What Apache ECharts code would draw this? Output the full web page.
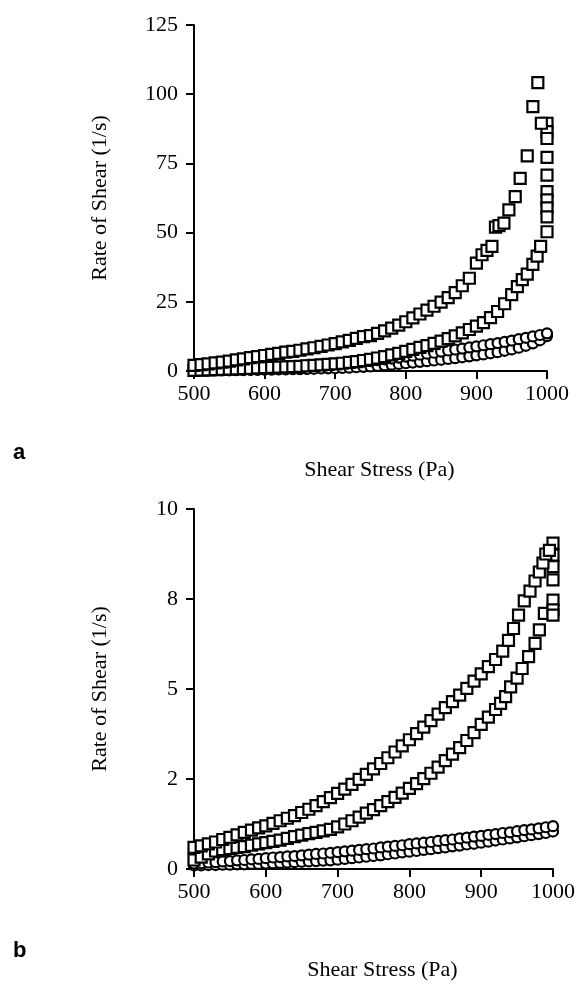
<!DOCTYPE html>
<html>
<head>
<meta charset="utf-8">
<script src="https://cdn.jsdelivr.net/npm/echarts@6/dist/echarts.min.js"></script>
<style>
  html, body { margin: 0; padding: 0; background: #fff; }
  #chart { width: 578px; height: 988px; }
</style>
</head>
<body>
<div id="chart"></div>
<script>
// stress grid (Pa), read every 10 Pa
var stressGrid = [500, 510, 520, 530, 540, 550, 560, 570, 580, 590,
  600, 610, 620, 630, 640, 650, 660, 670, 680, 690,
  700, 710, 720, 730, 740, 750, 760, 770, 780, 790,
  800, 810, 820, 830, 840, 850, 860, 870, 880, 890,
  900, 910, 920, 930, 940, 950, 960, 970, 980, 990, 1000];
var stressTo900 = stressGrid.slice(0, 41);

var xTicks = [500, 600, 700, 800, 900, 1000];
var yTicksA = ["0", "25", "50", "75", "100", "125"];
var yTicksB = ["0", "2", "5", "8", "10"];

// ---- panel a ----
var aSqUp = [2.0, 2.3, 2.6, 2.9, 3.2, 3.6, 4.0, 4.4, 4.8, 5.2,
  5.6, 6.0, 6.4, 6.8, 7.1, 7.5, 8.0, 8.4, 8.9, 9.4,
  9.9, 10.5, 11.1, 11.8, 12.4, 12.8, 13.6, 14.5, 15.5, 16.6,
  17.8, 19.2, 20.6, 22.0, 23.4, 24.9, 26.5, 28.3, 30.8, 33.5, 39.0];
var aSqUpTailX = [908, 915, 922, 927, 932, 939, 946, 955, 962, 972, 980, 987, 992];
var aSqUpTailY = [42.0, 43.6, 45.0, 52.0, 52.5, 53.4, 58.2, 63.0, 69.6, 77.7, 95.5, 104.2, 89.5];
var aSqHold = [89.5, 86.5, 84.0, 77.2, 70.8, 64.8, 61.8, 58.9, 55.7, 50.3];
var aSqDown = [0.2, 0.3, 0.4, 0.5, 0.6, 0.7, 0.8, 0.9, 1.0, 1.1,
  1.2, 1.3, 1.4, 1.5, 1.6, 1.7, 1.9, 2.0, 2.2, 2.4,
  2.6, 2.8, 3.1, 3.4, 3.8, 4.2, 4.7, 5.2, 5.8, 6.4,
  7.1, 7.8, 8.5, 9.2, 10.0, 10.8, 11.7, 12.7, 13.8, 15.0, 16.2];
var aSqDownTailX = [910, 920, 930, 940, 950, 958, 965, 972, 980, 986, 991];
var aSqDownTailY = [17.5, 19.3, 21.5, 24.3, 27.6, 30.5, 33.0, 35.0, 38.5, 41.5, 45.0];
var aCircUp = [0.3, 0.35, 0.4, 0.5, 0.6, 0.7, 0.8, 0.9, 1.0, 1.1,
  1.2, 1.3, 1.4, 1.55, 1.7, 1.85, 2.0, 2.15, 2.3, 2.45,
  2.6, 2.8, 3.0, 3.2, 3.4, 3.6, 3.9, 4.2, 4.5, 4.85,
  5.2, 5.55, 5.9, 6.25, 6.6, 7.0, 7.4, 7.75, 8.1, 8.5,
  8.9, 9.3, 9.7, 10.1, 10.5, 11.0, 11.5, 12.0, 12.5, 13.0, 13.6];
var aCircDown = [0.1, 0.1, 0.15, 0.2, 0.2, 0.25, 0.3, 0.3, 0.35, 0.4,
  0.45, 0.5, 0.55, 0.6, 0.65, 0.7, 0.75, 0.8, 0.9, 0.95,
  1.0, 1.1, 1.2, 1.35, 1.5, 1.65, 1.85, 2.05, 2.3, 2.55,
  2.8, 3.05, 3.3, 3.55, 3.8, 4.05, 4.35, 4.65, 4.95, 5.3,
  5.65, 6.0, 6.4, 6.8, 7.3, 7.8, 8.4, 9.1, 10.0, 11.1, 12.6];

// ---- panel b ----
var bSqUp = [0.60, 0.64, 0.70, 0.75, 0.82, 0.88, 0.95, 1.02, 1.08, 1.14,
  1.20, 1.27, 1.34, 1.41, 1.48, 1.57, 1.66, 1.76, 1.87, 1.98,
  2.10, 2.22, 2.35, 2.49, 2.63, 2.78, 2.93, 3.09, 3.25, 3.42,
  3.59, 3.76, 3.94, 4.12, 4.30, 4.48, 4.65, 4.83, 5.02, 5.22, 5.42];
var bSqUpTailX = [910, 920, 930, 938, 945, 952, 960, 968, 975, 981, 986, 990, 995];
var bSqUpTailY = [5.62, 5.82, 6.05, 6.35, 6.68, 7.05, 7.45, 7.72, 8.0, 8.25, 8.5, 8.75, 8.85];
var bSqHold = [9.05, 8.72, 8.4, 8.03, 7.47, 7.2, 7.05];
var bSqDown = [0.25, 0.33, 0.42, 0.50, 0.54, 0.57, 0.60, 0.62, 0.66, 0.70,
  0.73, 0.77, 0.80, 0.85, 0.90, 0.94, 0.98, 1.02, 1.06, 1.10,
  1.17, 1.25, 1.34, 1.44, 1.55, 1.65, 1.76, 1.87, 1.99, 2.11,
  2.24, 2.37, 2.51, 2.66, 2.83, 3.01, 3.19, 3.37, 3.57, 3.79, 4.02];
var bSqDownTailX = [910, 920, 927, 934, 941, 950, 957, 966, 975, 981, 988];
var bSqDownTailY = [4.22, 4.43, 4.6, 4.79, 5.06, 5.3, 5.57, 5.9, 6.27, 6.64, 7.1];
var bCircUp = [0.15, 0.16, 0.18, 0.19, 0.21, 0.22, 0.24, 0.25, 0.27, 0.28,
  0.30, 0.32, 0.33, 0.35, 0.36, 0.38, 0.40, 0.42, 0.43, 0.45,
  0.47, 0.49, 0.51, 0.53, 0.55, 0.57, 0.60, 0.62, 0.64, 0.66,
  0.69, 0.71, 0.73, 0.75, 0.78, 0.80, 0.82, 0.85, 0.87, 0.90,
  0.92, 0.95, 0.97, 1.00, 1.02, 1.05, 1.08, 1.10, 1.13, 1.16, 1.19];
var bCircDown = [0.10, 0.10, 0.11, 0.11, 0.12, 0.12, 0.13, 0.13, 0.14, 0.14,
  0.15, 0.16, 0.17, 0.18, 0.19, 0.20, 0.21, 0.22, 0.23, 0.24,
  0.26, 0.28, 0.30, 0.32, 0.34, 0.36, 0.38, 0.41, 0.43, 0.46,
  0.48, 0.50, 0.53, 0.55, 0.58, 0.60, 0.63, 0.65, 0.68, 0.70,
  0.73, 0.76, 0.79, 0.82, 0.85, 0.88, 0.91, 0.94, 0.97, 1.00, 1.04];

function pairs(xs, ys) {
  return xs.map(function (x, i) { return [x, ys[i]]; });
}
function atStress(s, ys) {
  return ys.map(function (y) { return [s, y]; });
}

var serif = "'Liberation Serif', 'Times New Roman', serif";
var labelStyle = { color: "#000", fontFamily: serif, fontSize: 22 };

function xAxisFor(gridIndex, gap) {
  return {
    type: "value", gridIndex: gridIndex,
    min: 500, max: 1000, interval: 100,
    name: "Shear Stress (Pa)", nameLocation: "middle", nameGap: gap,
    nameTextStyle: { color: "#000", fontFamily: serif, fontSize: 22, padding: [0, 0, 0, 18] },
    axisLine: { lineStyle: { color: "#000", width: 2 } },
    axisTick: { length: 8, lineStyle: { color: "#000", width: 2 } },
    axisLabel: Object.assign({ margin: 12, formatter: function (v) { return xTicks.indexOf(v) >= 0 ? String(v) : ""; } }, labelStyle),
    splitLine: { show: false }
  };
}
function yAxisFor(gridIndex, max, interval, ticks) {
  return {
    type: "value", gridIndex: gridIndex,
    min: 0, max: max, interval: interval,
    name: "Rate of Shear (1/s)", nameLocation: "middle", nameGap: 83,
    nameTextStyle: { color: "#000", fontFamily: serif, fontSize: 22 },
    axisLine: { show: true, lineStyle: { color: "#000", width: 2 } },
    axisTick: { show: true, length: 8, lineStyle: { color: "#000", width: 2 } },
    axisLabel: Object.assign({ margin: 16, formatter: function (v) { return ticks[Math.round(v / interval)]; } }, labelStyle),
    splitLine: { show: false }
  };
}
function marks(idx, symbol, size, data) {
  return {
    type: "scatter", xAxisIndex: idx, yAxisIndex: idx,
    symbol: symbol, symbolSize: size,
    itemStyle: { color: "#fff", borderColor: "#000", borderWidth: 2.2, opacity: 1 },
    data: data, silent: true
  };
}

var chart = echarts.init(document.getElementById("chart"));
chart.setOption({
  animation: false,
  backgroundColor: "#fff",
  grid: [
    { left: 194, top: 25, width: 353, height: 346 },
    { left: 194, top: 509, width: 361, height: 360 }
  ],
  xAxis: [xAxisFor(0, 88), xAxisFor(1, 90)],
  yAxis: [yAxisFor(0, 125, 25, yTicksA), yAxisFor(1, 10, 2.5, yTicksB)],
  graphic: [
    { type: "text", left: 13, top: 442, style: { text: "a", font: "bold 22px 'Liberation Sans', Arial, sans-serif", fill: "#000" } },
    { type: "text", left: 13, top: 940, style: { text: "b", font: "bold 22px 'Liberation Sans', Arial, sans-serif", fill: "#000" } }
  ],
  series: [
    marks(0, "circle", 10, pairs(stressGrid, aCircDown)),
    marks(0, "circle", 10, pairs(stressGrid, aCircUp)),
    marks(0, "rect", 11, pairs(stressTo900, aSqDown).concat(pairs(aSqDownTailX, aSqDownTailY))),
    marks(0, "rect", 11, atStress(1000, aSqHold)),
    marks(0, "rect", 11, pairs(stressTo900, aSqUp).concat(pairs(aSqUpTailX, aSqUpTailY))),
    marks(1, "circle", 10, pairs(stressGrid, bCircDown)),
    marks(1, "circle", 10, pairs(stressGrid, bCircUp)),
    marks(1, "rect", 11, pairs(stressTo900, bSqDown).concat(pairs(bSqDownTailX, bSqDownTailY))),
    marks(1, "rect", 11, atStress(1000, bSqHold)),
    marks(1, "rect", 11, pairs(stressTo900, bSqUp).concat(pairs(bSqUpTailX, bSqUpTailY)))
  ]
});
</script>
</body>
</html>
